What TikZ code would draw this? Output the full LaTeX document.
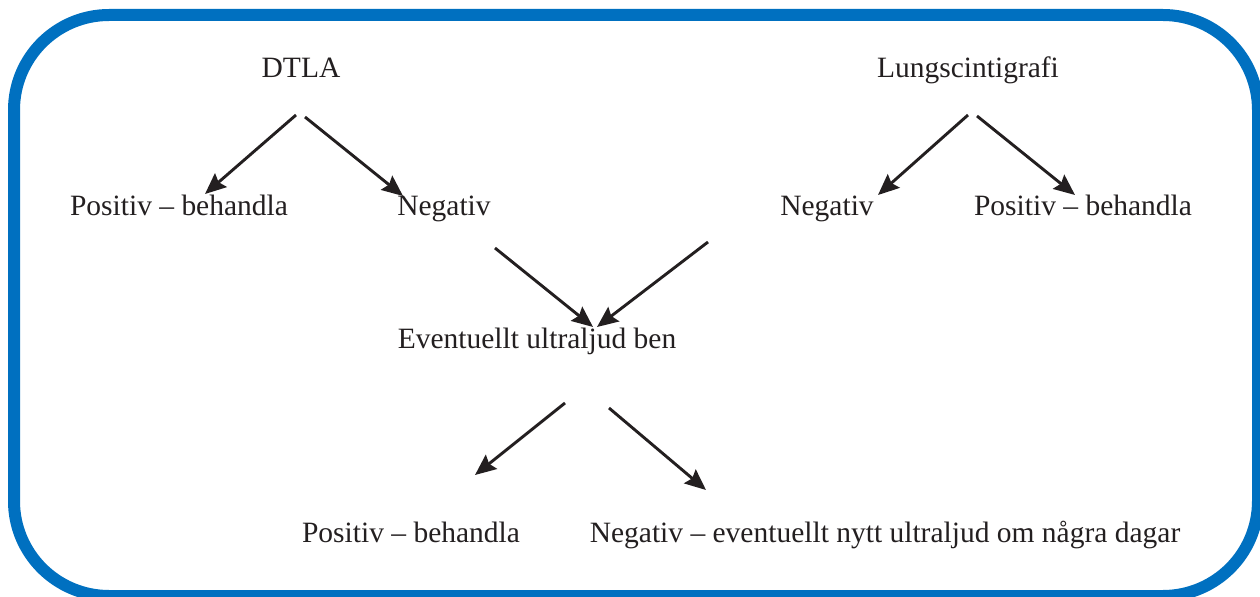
\documentclass[tikz,border=0pt]{standalone}
\usepackage{fontspec}
\setmainfont{Liberation Serif}
\usetikzlibrary{arrows.meta}
\definecolor{frameblue}{RGB}{0,112,192}
\definecolor{ink}{RGB}{35,31,32}
\begin{document}
\begin{tikzpicture}[x=1bp,y=-1bp,
  lbl/.style={text=ink,inner sep=0pt,anchor=base,font=\fontsize{29.6}{34}\selectfont},
  arr/.style={draw=ink,line width=2.9bp,-{Stealth[length=21bp,width=18bp,inset=3bp]}}]
\useasboundingbox (0,0) rectangle (1260,597);
\draw[frameblue,line width=12bp,rounded corners=95bp] (14,15) rectangle (1258,596);
% labels
\node[lbl] (dtla) at (301,78) {DTLA};
\node[lbl] (lung) at (968,78) {Lungscintigrafi};
\node[lbl] (pos1) at (179,216) {Positiv – behandla};
\node[lbl] (neg1) at (444,216) {Negativ};
\node[lbl] (neg2) at (827,216) {Negativ};
\node[lbl] (pos2) at (1083,216) {Positiv – behandla};
\node[lbl] (ult) at (537,349) {Eventuellt ultraljud ben};
\node[lbl] (pos3) at (411,542) {Positiv – behandla};
\node[lbl] (neg3) at (885,542) {Negativ – eventuellt nytt ultraljud om några dagar};
% arrow endpoints
\coordinate (a1s) at (296,115); \coordinate (a1e) at (205,194);
\coordinate (a2s) at (305,117); \coordinate (a2e) at (403,196);
\coordinate (b1s) at (968,115); \coordinate (b1e) at (878,195);
\coordinate (b2s) at (977,116); \coordinate (b2e) at (1075,195);
\coordinate (c1s) at (495,248); \coordinate (c1e) at (593,327);
\coordinate (c2s) at (708,242); \coordinate (c2e) at (597,327);
\coordinate (d1s) at (565,403); \coordinate (d1e) at (475,475);
\coordinate (d2s) at (609,408); \coordinate (d2e) at (706,490);
\draw[arr] (a1s) -- (a1e);
\draw[arr] (a2s) -- (a2e);
\draw[arr] (b1s) -- (b1e);
\draw[arr] (b2s) -- (b2e);
\draw[arr] (c1s) -- (c1e);
\draw[arr] (c2s) -- (c2e);
\draw[arr] (d1s) -- (d1e);
\draw[arr] (d2s) -- (d2e);
\end{tikzpicture}
\end{document}
